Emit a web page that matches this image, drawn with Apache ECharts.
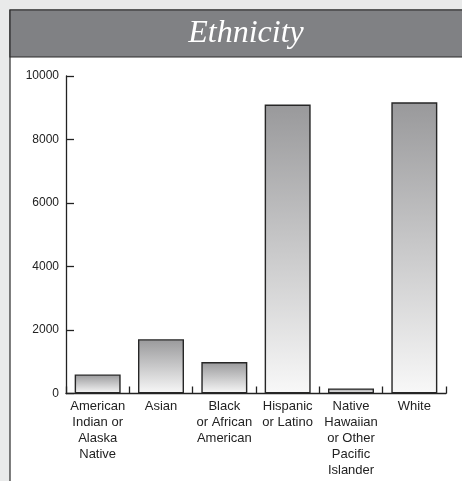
<!DOCTYPE html>
<html>
<head>
<meta charset="utf-8">
<script src="https://cdn.jsdelivr.net/npm/echarts@6/dist/echarts.min.js"></script>
<style>
  html, body { margin: 0; padding: 0; background: #e9eaea; }
  #chart { width: 462px; height: 481px; }
</style>
</head>
<body>
<div id="chart"></div>
<script>
// Population counts by ethnicity
const categories = [
  'American\nIndian or\nAlaska\nNative',
  'Asian',
  'Black\nor African\nAmerican',
  'Hispanic\nor Latino',
  'Native\nHawaiian\nor Other\nPacific\nIslander',
  'White'
];
const counts = [600, 1710, 990, 9100, 160, 9170];
const yTicks = { min: 0, max: 10000, step: 2000 };
const titleText = 'Ethnicity';

const chart = echarts.init(document.getElementById('chart'), null, { renderer: 'canvas' });

chart.setOption({
  backgroundColor: '#e9eaea',
  animation: false,
  graphic: [
    {
      type: 'rect',
      shape: { x: 10, y: 10, width: 480, height: 500 },
      style: { fill: '#ffffff', stroke: '#2a2a2a', lineWidth: 1.2 },
      z: -10
    },
    {
      type: 'rect',
      shape: { x: 10, y: 10, width: 480, height: 47 },
      style: { fill: '#808184', stroke: '#2a2a2a', lineWidth: 1.2 },
      z: -9
    },
    {
      type: 'text',
      x: 246,
      y: 34,
      style: {
        text: titleText,
        fill: '#ffffff',
        font: 'italic 32px "Liberation Serif", "DejaVu Serif", serif',
        align: 'center',
        verticalAlign: 'middle'
      },
      z: 5
    }
  ],
  grid: { left: 66, right: 16, top: 76, bottom: 87.5, containLabel: false },
  xAxis: {
    type: 'category',
    data: categories,
    axisLine: { show: true, lineStyle: { color: '#222222', width: 1.3 } },
    axisTick: { show: true, inside: true, length: 7, alignWithLabel: false, lineStyle: { color: '#222222', width: 1.3 } },
    axisLabel: {
      interval: 0,
      margin: 5,
      fontFamily: '"Liberation Sans", Arial, sans-serif',
      fontSize: 13,
      lineHeight: 16,
      color: '#222222',
      align: 'center'
    },
    splitLine: { show: false }
  },
  yAxis: {
    type: 'value',
    min: yTicks.min,
    max: yTicks.max,
    interval: yTicks.step,
    axisLine: { show: true, lineStyle: { color: '#222222', width: 1.3 } },
    axisTick: { show: true, inside: true, length: 8, lineStyle: { color: '#222222', width: 1.3 } },
    axisLabel: {
      margin: 7,
      formatter: (v) => String(v),
      fontFamily: '"Liberation Sans", Arial, sans-serif',
      fontSize: 12,
      color: '#222222'
    },
    splitLine: { show: false }
  },
  series: [
    {
      type: 'bar',
      data: counts,
      barWidth: 46,
      itemStyle: {
        color: new echarts.graphic.LinearGradient(0, 0, 0, 1, [
          { offset: 0, color: '#99999b' },
          { offset: 1, color: '#f8f8f8' }
        ]),
        borderColor: '#262626',
        borderWidth: 1.4
      }
    }
  ]
});
</script>
</body>
</html>
